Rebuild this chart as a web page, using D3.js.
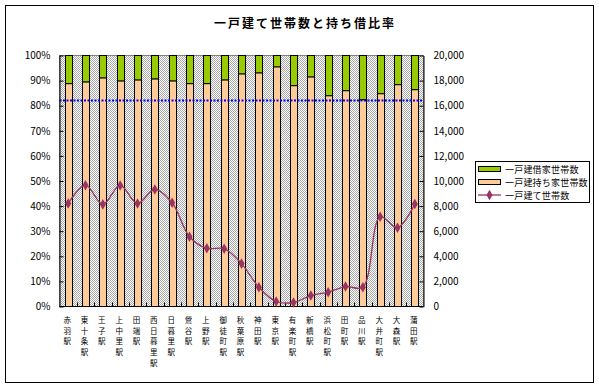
<!DOCTYPE html>
<html><head><meta charset="utf-8">
<script src="https://cdn.jsdelivr.net/npm/d3@7/dist/d3.min.js"></script>
<style>
body{margin:0;background:#fff;}
text{font-family:"Noto Sans CJK JP","Noto Sans",sans-serif;fill:#000;}
</style></head>
<body>
<svg id="c" width="599" height="389"></svg>
<script>
const stations = ["赤羽駅","東十条駅","王子駅","上中里駅","田端駅","西日暮里駅","日暮里駅","鶯谷駅","上野駅","御徒町駅","秋葉原駅","神田駅","東京駅","有楽町駅","新橋駅","浜松町駅","田町駅","品川駅","大井町駅","大森駅","蒲田駅"];
const ownRatio = [0.888,0.895,0.911,0.899,0.903,0.907,0.899,0.888,0.888,0.903,0.927,0.931,0.955,0.880,0.915,0.840,0.860,0.824,0.848,0.884,0.864];
const houses = [8216,9670,8137,9646,8216,9328,8264,5562,4640,4609,3417,1541,397,318,874,1144,1589,1541,7151,6277,8161];
const avgRatio = 0.821;
const leftTicks = [0,0.1,0.2,0.3,0.4,0.5,0.6,0.7,0.8,0.9,1.0];
const rightTicks = [0,2000,4000,6000,8000,10000,12000,14000,16000,18000,20000];
const title = "一戸建て世帯数と持ち借比率";
const legendLabels = ["一戸建借家世帯数","一戸建持ち家世帯数","一戸建て世帯数"];

const svg = d3.select("#c");
const L=59.5, R=423.5, T=55.5, B=306.5;

// outer border
svg.append("rect").attr("x",5.5).attr("y",5.5).attr("width",588).attr("height",377)
  .attr("fill","#fff").attr("stroke","#000").attr("stroke-width",1);

// pattern
const defs = svg.append("defs");
const pat = defs.append("pattern").attr("id","chk").attr("patternUnits","userSpaceOnUse")
  .attr("width",2).attr("height",2);
pat.append("rect").attr("width",2).attr("height",2).attr("fill","#fff");
pat.append("rect").attr("x",0).attr("y",0).attr("width",1).attr("height",1).attr("fill","#a8a8a8");
pat.append("rect").attr("x",1).attr("y",1).attr("width",1).attr("height",1).attr("fill","#a8a8a8");

svg.append("rect").attr("x",L).attr("y",T).attr("width",R-L).attr("height",B-T)
  .attr("fill","url(#chk)").attr("stroke","#808080");

svg.append("text").attr("x",305).attr("y",28).attr("text-anchor","middle")
  .attr("font-size",12).attr("font-weight","bold").attr("letter-spacing",2).text(title);

const x = d3.scaleBand().domain(stations).range([L,R]).padding(0);
const y = d3.scaleLinear().domain([0,1]).range([B,T]);
const y2 = d3.scaleLinear().domain([0,20000]).range([B,T]);
const bw = x.bandwidth()*0.42;

const g = svg.append("g");
stations.forEach((s,i)=>{
  const cx = x(s)+x.bandwidth()/2;
  const x0 = Math.round(cx-bw/2)+0.5;
  g.append("rect").attr("x",x0).attr("y",y(ownRatio[i])).attr("width",Math.round(bw))
    .attr("height",y(0)-y(ownRatio[i])).attr("fill","#FFCC99").attr("stroke","#000");
  g.append("rect").attr("x",x0).attr("y",y(1)).attr("width",Math.round(bw))
    .attr("height",y(ownRatio[i])-y(1)).attr("fill","#99CC00").attr("stroke","#000");
});

// average line
svg.append("line").attr("x1",L).attr("x2",R).attr("y1",y(avgRatio)).attr("y2",y(avgRatio))
  .attr("stroke","#0000FF").attr("stroke-width",2).attr("stroke-dasharray","2,1.5");

// axes
const axL = d3.axisLeft(y).tickValues(leftTicks).tickFormat(d3.format(".0%")).tickSizeInner(-4).tickSizeOuter(0).tickPadding(9);
const gl = svg.append("g").attr("transform",`translate(${L},0)`).call(axL);
const axR = d3.axisRight(y2).tickValues(rightTicks).tickFormat(d3.format(",")).tickSizeInner(-4).tickSizeOuter(0).tickPadding(10);
const gr = svg.append("g").attr("transform",`translate(${R},0)`).call(axR);
[gl,gr].forEach(a=>{
  a.select(".domain").attr("stroke","#000");
  a.selectAll("line").attr("stroke","#000");
  a.selectAll("text").attr("font-size",10).attr("fill","#000").style("font-family",'"Noto Sans CJK JP",sans-serif');
});
// bottom axis line + ticks at band boundaries
svg.append("line").attr("x1",L).attr("x2",R).attr("y1",B).attr("y2",B).attr("stroke","#000");
stations.forEach((s,i)=>{
  if(i===0) return;
  const xx = Math.round(x(s))+0.5;
  svg.append("line").attr("x1",xx).attr("x2",xx).attr("y1",B).attr("y2",B-4).attr("stroke","#000");
});

// vertical category labels
stations.forEach(s=>{
  const cx = x(s)+x.bandwidth()/2 - 1;
  const t = svg.append("text").attr("text-anchor","middle").attr("font-size",7.5);
  Array.from(s).forEach((ch,j)=>{
    t.append("tspan").attr("x",cx).attr("y",323+j*10.7).text(ch);
  });
});

// line series
const pts = stations.map((s,i)=>[x(s)+x.bandwidth()/2, y2(houses[i])]);
svg.append("path").attr("d",d3.line().curve(d3.curveCatmullRom.alpha(0.5))(pts))
  .attr("fill","none").attr("stroke","#993366").attr("stroke-width",1.3);
svg.selectAll(".mk").data(pts).enter().append("path")
  .attr("transform",d=>`translate(${d[0]},${d[1]})`)
  .attr("d",d3.symbol().type(d3.symbolDiamond).size(32)).attr("fill","#993366");

// legend
const lg = svg.append("g");
lg.append("rect").attr("x",475.5).attr("y",161.5).attr("width",114).attr("height",41)
  .attr("fill","#fff").attr("stroke","#000");
const ly = [169,182,195];
lg.append("rect").attr("x",478.5).attr("y",ly[0]-2.5).attr("width",22).attr("height",5).attr("fill","#99CC00").attr("stroke","#000");
lg.append("rect").attr("x",478.5).attr("y",ly[1]-2.5).attr("width",22).attr("height",5).attr("fill","#FFCC99").attr("stroke","#000");
lg.append("line").attr("x1",478).attr("x2",501).attr("y1",ly[2]).attr("y2",ly[2]).attr("stroke","#993366").attr("stroke-width",1.3);
lg.append("path").attr("transform",`translate(489.5,${ly[2]})`).attr("d",d3.symbol().type(d3.symbolDiamond).size(32)).attr("fill","#993366");
legendLabels.forEach((t,i)=>{
  lg.append("text").attr("x",505).attr("y",ly[i]+3.5).attr("font-size",9).attr("letter-spacing",0.2).text(t);
});
</script>
</body></html>
